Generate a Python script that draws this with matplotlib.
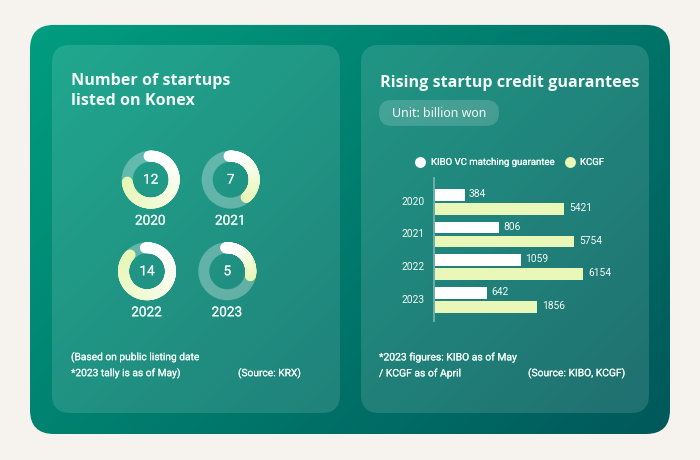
import numpy as np
import matplotlib
matplotlib.use('Agg')
import matplotlib.pyplot as plt
import matplotlib.patheffects as pe
from matplotlib.collections import LineCollection
from matplotlib.patches import FancyBboxPatch, Wedge

W, H = 700, 460

# donut data
years = ['2020', '2021', '2022', '2023']
startups = [12, 7, 14, 5]
# sweep of each ring in degrees
sweep = [268, 143, 318, 105]

# bar data
kibo_values = [384, 806, 1059, 642]
kcgf_values = [5421, 5754, 6154, 1856]
# the source bars are not to scale with their labels, so lengths are read separately
kibo_lengths = [31, 65, 87, 53]
kcgf_lengths = [130, 140, 149, 103]

plt.rcParams['font.family'] = ['Roboto', 'DejaVu Sans']

TXT = '#f2fbf5'
CREAM = '#e9f8b8'
# Roboto medium resolves to bold here, so thicken the regular a little instead
HEAVY = [pe.withStroke(linewidth=0.12, foreground=TXT)]


def px_axes(x0, y0, x1, y1):
    # axes from pixel box, y counted from the top of the image
    return fig.add_axes([x0 / W, 1 - y1 / H, (x1 - x0) / W, (y1 - y0) / H])


def rounded(x0, y0, x1, y1, r, **kw):
    return FancyBboxPatch((x0 + r, y0 + r), x1 - x0 - 2 * r, y1 - y0 - 2 * r,
                          boxstyle='round,pad=%g,rounding_size=%g' % (r, r), **kw)


# 4.6 * 100 truncates to 459 px, so nudge it
fig = plt.figure(figsize=(7, 4.601), dpi=100, facecolor='#f6f3ee')

bg = fig.add_axes([0, 0, 1, 1])
bg.set_xlim(0, W)
bg.set_ylim(H, 0)
bg.axis('off')

# card with diagonal gradient
gx, gy = np.meshgrid(np.linspace(0, 1, 320), np.linspace(0, 1, 205))
t = (gx * 640 + gy * 409) / (640 + 409)
start = np.array([0, 158, 128]) / 255
end = np.array([0, 88, 90]) / 255
grad = start + (end - start) * t[..., None]
im = bg.imshow(grad, extent=(30, 670, 434, 25), aspect='auto', zorder=1)
card = rounded(30, 25, 670, 434, 24, fc='none', ec='none', zorder=1)
bg.add_patch(card)
im.set_clip_path(card)
bg.set_xlim(0, W)
bg.set_ylim(H, 0)

for x0, x1 in [(52, 340), (361, 649)]:
    bg.add_patch(rounded(x0, 45, x1, 413, 18, fc='white', alpha=0.13, ec='none', zorder=2))
bg.add_patch(rounded(379, 100, 499, 126, 13, fc='white', alpha=0.17, ec='none', zorder=3))


def label(x, y, s, size, weight='normal', ha='left', family=None, heavy=True):
    tx = bg.text(x, y, s, fontsize=size, fontweight=weight, ha=ha, va='center', color=TXT,
                 family=family or ['Roboto', 'DejaVu Sans'], zorder=5)
    if heavy:
        tx.set_path_effects(HEAVY)


label(71, 80.5, 'Number of startups', 11.6, 'bold', family=['Open Sans'], heavy=False)
label(71, 100.5, 'listed on Konex', 11.6, 'bold', family=['Open Sans'], heavy=False)
label(380, 82.5, 'Rising startup credit guarantees', 11.6, 'bold', family=['Open Sans'], heavy=False)
label(392, 113, 'Unit: billion won', 8.95, family=['Noto Sans'], heavy=False)

label(71, 357, '(Based on public listing date', 7.35)
label(71, 373, '*2023 tally is as of May)', 7.35)
label(238, 373, '(Source: KRX)', 7.35)
label(379, 357, '*2023 figures: KIBO as of May', 7.45)
label(379, 373, '/ KCGF as of April', 7.45)
label(528, 373, '(Source: KIBO, KCGF)', 7.4)

# legend
bg.scatter([420], [162], s=62, color='white', linewidths=0, zorder=5)
bg.scatter([570], [162], s=62, color=CREAM, linewidths=0, zorder=5)
label(431, 162, 'KIBO VC matching guarantee', 6.9)
label(580, 162, 'KCGF', 6.9)

# donuts
centers = [(150.7, 179.7), (230.7, 179.7), (147, 271.3), (227.3, 271.3)]
R = 29
ring = 11
c_white = np.array([1, 1, 1])
c_cream = np.array([0.90, 0.965, 0.70])
for (cx, cy), year, n, deg in zip(centers, years, startups, sweep):
    ax = px_axes(cx - 36, cy - 36, cx + 36, cy + 36)
    ax.set_xlim(-36, 36)
    ax.set_ylim(-36, 36)
    ax.axis('off')
    ax.patch.set_alpha(0)
    ax.add_patch(Wedge((0, 0), R, 0, 360, width=ring, fc='white', alpha=0.3, ec='none'))
    # clockwise from just left of 12 o'clock
    a = np.radians(np.linspace(-4, deg - 4, 120))
    r = R - ring / 2
    xs, ys = r * np.sin(a), r * np.cos(a)
    pts = np.column_stack([xs, ys]).reshape(-1, 1, 2)
    segs = np.concatenate([pts[:-1], pts[1:]], axis=1)
    f = np.linspace(0, 1, len(segs))[:, None]
    f = np.clip(f * 1.1 - 0.1, 0, 1)
    lc = LineCollection(segs[::-1], colors=(c_white + (c_cream - c_white) * f)[::-1],
                        linewidths=ring * 0.72, capstyle='round')
    ax.add_collection(lc)
    num = ax.text(0, 0, str(n), ha='center', va='center', color=TXT, fontsize=9.8)
    num.set_path_effects(HEAVY)
    label(cx - 0.5, cy + 41, year, 9.8, ha='center')

# bars
yr = np.arange(len(years))
barh = 11.7 / 32.7
off = 7 / 32.7
bx = px_axes(434, 178, 600, 321)
bx.set_xlim(0, 166)
bx.set_ylim(3.64, -0.728)
bx.patch.set_alpha(0)
bx.barh(yr - off, kibo_lengths, height=barh, color='white')
bx.barh(yr + off, kcgf_lengths, height=barh, color=CREAM)
for i in yr:
    bx.text(kibo_lengths[i] + 4, i - off - 0.03, str(kibo_values[i]), va='center', color=TXT, fontsize=7.4)
    bx.text(kcgf_lengths[i] + 5, i + off - 0.03, str(kcgf_values[i]), va='center', color=TXT, fontsize=7.4)
bx.set_yticks(yr - 0.04)
bx.set_yticklabels(years, color=TXT, fontsize=7.4)
bx.tick_params(axis='y', length=0, pad=7)
bx.set_xticks([])
for side in ['top', 'right', 'bottom']:
    bx.spines[side].set_visible(False)
bx.spines['left'].set_color('#6fb0a8')
bx.spines['left'].set_linewidth(1.4)

fig.savefig('out.png', dpi=100, facecolor=fig.get_facecolor())
